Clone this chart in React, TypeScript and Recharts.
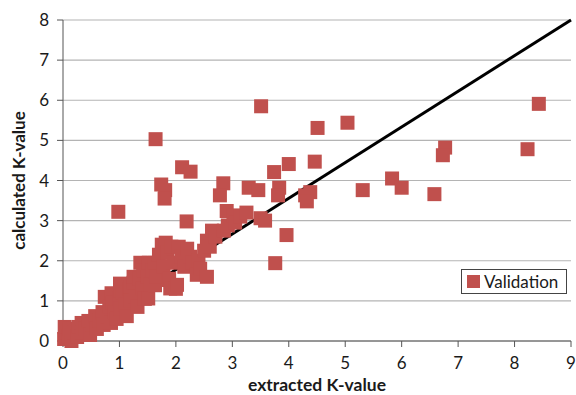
import React from "react";
import {
  ScatterChart,
  Scatter,
  XAxis,
  YAxis,
  CartesianGrid,
  ReferenceLine,
  Label,
} from "recharts";

// extracted K-value (x) and calculated K-value (y)
const extractedK = [
  0.02, 0.05, 0.03, 0.1, 0.12, 0.15, 0.2, 0.25, 0.28, 0.33, 0.35, 0.4, 0.45, 0.48,
  0.52, 0.57, 0.6, 0.65, 0.7, 0.72, 0.74, 0.78, 0.82, 0.85, 0.86, 0.88, 0.92, 0.95,
  1.0, 1.01, 1.01, 1.02, 1.05, 1.1, 1.13, 1.18, 1.19, 1.2, 1.25, 1.25, 1.28, 1.32,
  1.35, 1.37, 1.4, 1.42, 1.45, 1.5, 1.51, 1.52, 1.55, 1.58, 1.62, 1.63, 1.65, 1.7,
  1.75, 1.78, 1.82, 1.85, 1.87, 1.88, 1.9, 1.92, 1.95, 2.0, 2.02, 2.05, 2.1, 2.15,
  2.2, 2.25, 2.3, 2.37, 2.4, 2.43, 2.5, 2.55, 2.55, 2.6, 2.64, 2.7, 2.85, 2.92,
  2.9, 3.02, 3.05, 3.14, 3.25, 3.5, 3.58,
  0.98, 1.64, 3.51, 1.74, 1.81, 1.8, 2.11, 2.26, 2.19, 2.84, 2.78, 3.29, 3.46,
  3.74, 4.0, 3.83, 3.81, 4.51, 5.04, 8.43, 8.23, 6.77, 6.73, 4.46, 5.31, 5.83,
  6.0, 6.58, 4.38, 4.29, 4.32, 3.96, 3.76,
];
const calculatedK = [
  0.05, 0.2, 0.35, 0.1, 0.3, 0.0, 0.2, 0.1, 0.35, 0.45, 0.2, 0.3, 0.5, 0.15,
  0.4, 0.62, 0.3, 0.5, 0.72, 0.4, 1.1, 0.6, 0.85, 0.45, 1.19, 0.95, 0.7, 0.55,
  1.05, 1.27, 1.43, 0.8, 1.2, 0.9, 0.62, 1.3, 1.35, 1.0, 1.45, 1.6, 1.1, 0.85,
  1.55, 1.95, 1.3, 1.75, 1.05, 1.6, 1.06, 1.95, 1.4, 1.75, 1.95, 1.39, 1.6, 2.15,
  2.4, 1.85, 2.45, 2.2, 1.52, 1.55, 1.31, 2.35, 1.95, 1.3, 1.4, 2.35, 2.1, 1.85,
  2.3, 2.1, 1.95, 1.65, 2.0, 1.8, 2.25, 2.5, 1.6, 2.35, 2.75, 2.6, 2.75, 2.88,
  3.24, 3.13, 2.95, 3.1, 3.2, 3.06, 3.0,
  3.22, 5.03, 5.85, 3.9, 3.76, 3.55, 4.33, 4.22, 2.98, 3.93, 3.63, 3.82, 3.76,
  4.21, 4.41, 3.82, 3.63, 5.31, 5.44, 5.91, 4.78, 4.82, 4.63, 4.47, 3.76, 4.05,
  3.82, 3.66, 3.71, 3.63, 3.48, 2.64, 1.94,
];

const points = extractedK.map((x, i) => ({ x, y: calculatedK[i] }));

const xTicks = [0, 1, 2, 3, 4, 5, 6, 7, 8, 9];
const yTicks = [0, 1, 2, 3, 4, 5, 6, 7, 8];
const diagonal = [
  { x: 0, y: 0 },
  { x: 9, y: 8 },
];

const seriesName = "Validation";
const red = "#c0504d";
const font = "Lato, 'Open Sans', sans-serif";

const Square = (props: any) => (
  <rect x={props.cx - 7} y={props.cy - 7} width={14} height={14} fill={red} />
);

export default function App() {
  return (
    <div style={{ position: "absolute", left: 0, top: 0, width: 576, height: 395, fontFamily: font }}>
      <ScatterChart
        width={576}
        height={395}
        margin={{ top: 20, right: 5, left: 23, bottom: 24 }}
        style={{ fontFamily: font }}
      >
        <CartesianGrid vertical={false} stroke="#b4b4b4" strokeWidth={1.2} />
        <XAxis
          type="number"
          dataKey="x"
          domain={[0, 9]}
          ticks={xTicks}
          height={30}
          tickMargin={10}
          tick={{ fill: "#1a1a1a", fontSize: 17 }}
          axisLine={{ stroke: "#555" }}
          tickLine={{ stroke: "#555" }}
        >
          <Label
            content={({ viewBox }: any) => (
              <text
                x={viewBox.x + viewBox.width / 2}
                y={391}
                textAnchor="middle"
                fontWeight="bold"
                fontSize={17.5}
                fill="#1a1a1a"
              >
                extracted K-value
              </text>
            )}
          />
        </XAxis>
        <YAxis
          type="number"
          dataKey="y"
          domain={[0, 8]}
          ticks={yTicks}
          width={40}
          tickMargin={8}
          tick={{ fill: "#1a1a1a", fontSize: 17 }}
          axisLine={{ stroke: "#555" }}
          tickLine={{ stroke: "#555" }}
        >
          <Label
            content={({ viewBox }: any) => {
              const cx = 18;
              const cy = viewBox.y + viewBox.height / 2;
              return (
                <text
                  x={cx}
                  y={cy}
                  transform={`rotate(-90 ${cx} ${cy})`}
                  textAnchor="middle"
                  dominantBaseline="central"
                  fontWeight="bold"
                  fontSize={17}
                  fill="#1a1a1a"
                >
                  calculated K-value
                </text>
              );
            }}
          />
        </YAxis>
        <Scatter
          name={seriesName}
          data={points}
          shape={Square}
          isAnimationActive={false}
        />
        <ReferenceLine
          segment={diagonal}
          stroke="#000"
          strokeWidth={3}
          ifOverflow="visible"
        />
      </ScatterChart>
      <div
        style={{
          position: "absolute",
          left: 461,
          top: 269,
          width: 106,
          height: 25,
          border: "1px solid #444",
          background: "#fff",
          display: "flex",
          alignItems: "center",
          boxSizing: "border-box",
          fontSize: 17,
          color: "#1a1a1a",
        }}
      >
        <span
          style={{ display: "inline-block", width: 13, height: 13, background: red, marginLeft: 5, marginRight: 4 }}
        />
        <span>{seriesName}</span>
      </div>
    </div>
  );
}
